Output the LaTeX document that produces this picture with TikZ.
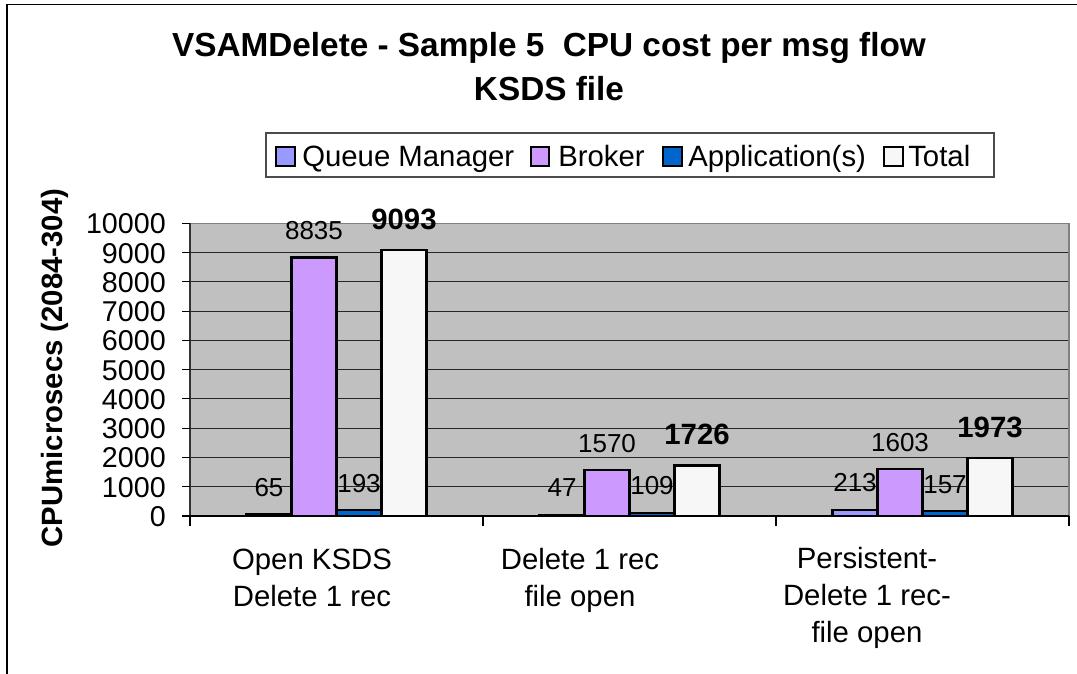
\documentclass[tikz,border=0pt]{standalone}
\usepackage{fontspec}
\setmainfont{Liberation Sans}
\definecolor{qmgr}{HTML}{9999FF}
\definecolor{broker}{HTML}{CC99FF}
\definecolor{appl}{HTML}{0066CC}
\definecolor{totalfill}{HTML}{F7F7F7}
\definecolor{plotbg}{HTML}{C0C0C0}
\definecolor{plotedge}{HTML}{808080}
\begin{document}
\begin{tikzpicture}[x=0.75pt,y=-0.75pt,
  barbox/.style={draw=black,line width=1.6pt},
  vallabel/.style={anchor=base,inner sep=0pt,font=\fontsize{19.5}{23}\selectfont},
  totlabel/.style={anchor=base,inner sep=0pt,font=\fontsize{22}{26}\selectfont\bfseries},
  ticklabel/.style={anchor=base east,inner sep=0pt,font=\fontsize{21.5}{26}\selectfont},
  catlabel/.style={anchor=base,inner sep=0pt,font=\fontsize{22}{26}\selectfont},
  legtext/.style={anchor=base west,inner sep=0pt,font=\fontsize{22}{26}\selectfont},
  legkey/.style={draw=black,line width=1.5pt,minimum size=14pt,inner sep=0pt},
  gridline/.style={draw=black!85,line width=0.8pt},
  tickmark/.style={draw=black,line width=0.8pt}]
\useasboundingbox (0,0) rectangle (1077,674);

% chart frame (only top and left edges fall inside the page)
\draw[line width=1pt] (7,674) -- (7,4.5) -- (1077,4.5);

% title
\node[font=\fontsize{25}{33}\selectfont\bfseries,align=center,inner sep=0pt]
  (title) at (549,67) {VSAMDelete - Sample 5\ \ CPU cost per msg flow\\KSDS file};

% legend
\draw[draw=black!70,line width=0.8pt] (266,133) rectangle (994,177);
\node[legkey,fill=qmgr]      (kq) at (285.5,156.5) {};
\node[legtext] (lq) at (302,166) {Queue Manager};
\node[legkey,fill=broker]    (kb) at (540,156.5) {};
\node[legtext] (lb) at (558,166) {Broker};
\node[legkey,fill=appl]      (ka) at (672.5,156.5) {};
\node[legtext] (la) at (688,166) {Application(s)};
\node[legkey,fill=totalfill] (kt) at (893.5,156.5) {};
\node[legtext] (lt) at (908,166) {Total};

% plot area and gridlines
\fill[plotbg] (190,223.3) rectangle (1069,516);
\foreach \k in {1,...,9} {
  \pgfmathsetmacro\gy{516-\k*29.27}
  \draw[gridline] (190,\gy) -- (1069,\gy);
}
\draw[draw=plotedge,line width=1pt] (190,516) -- (190,223.3) -- (1069,223.3) -- (1069,516);

% value axis
\draw[draw=black!80,line width=1pt] (190,223.3) -- (190,516);
\foreach \k in {0,...,10} {
  \pgfmathsetmacro\gy{516-\k*29.27}
  \draw[tickmark] (182,\gy) -- (190,\gy);
  \pgfmathtruncatemacro\lab{\k*1000}
  \node[ticklabel] (t\k) at (166,{\gy+10.5}) {\lab};
}
\node[rotate=90,font=\fontsize{22}{26}\selectfont\bfseries,inner sep=0pt]
  (ytitle) at (55,368) {CPUmicrosecs (2084-304)};

% bars and their values
\foreach \g/\c/\qa/\qb/\qc/\qd in {1/336.5/65/8835/193/9093,
                                   2/629.5/47/1570/109/1726,
                                   3/922.5/213/1603/157/1973} {
  \foreach \i/\v/\col in {0/\qa/qmgr,1/\qb/broker,2/\qc/appl} {
    \pgfmathsetmacro\xl{\c-90+45*\i}
    \pgfmathsetmacro\xr{\xl+45}
    \pgfmathsetmacro\yt{516-\v*0.02927}
    \draw[barbox,fill=\col] (\xl,516) rectangle (\xr,\yt);
    \node[vallabel] (v\g\i) at ({\xl+22.5},{\yt-18}) {\v};
  }
  \pgfmathsetmacro\xl{\c+45}
  \pgfmathsetmacro\xr{\c+90}
  \pgfmathsetmacro\yt{516-\qd*0.02927}
  \draw[barbox,fill=totalfill] (\xl,516) rectangle (\xr,\yt);
  \node[totlabel] (v\g3) at ({\c+67.5},{\yt-20.7}) {\qd};
}

% category axis
\draw[draw=black,line width=1pt] (190,516) -- (1069,516);
\foreach \x in {190,483,776,1069} {
  \draw[tickmark] (\x,516) -- (\x,526);
}

% category labels
\node[catlabel] (c1a) at (312,569) {Open KSDS};
\node[catlabel] (c1b) at (312,606) {Delete 1 rec};
\node[catlabel] (c2a) at (580,569) {Delete 1 rec};
\node[catlabel] (c2b) at (580,606) {file open};
\node[catlabel] (c3a) at (867,568) {Persistent-};
\node[catlabel] (c3b) at (867,605) {Delete 1 rec-};
\node[catlabel] (c3c) at (867,642) {file open};
\end{tikzpicture}
\end{document}
